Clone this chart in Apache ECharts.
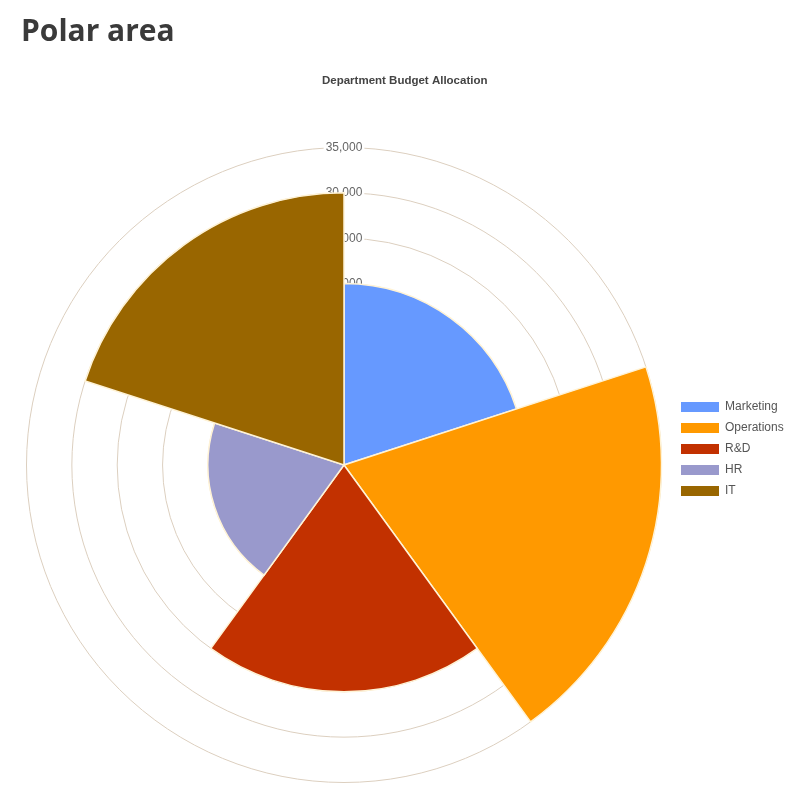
<!DOCTYPE html>
<html>
<head>
<meta charset="utf-8">
<script src="https://cdn.jsdelivr.net/npm/echarts@6/dist/echarts.min.js"></script>
<style>
html,body{margin:0;padding:0;background:#fff;}
#chart{width:800px;height:800px;}
</style>
</head>
<body>
<div id="chart"></div>
<script>
const categories = ['Marketing', 'Operations', 'R&D', 'HR', 'IT'];
const budgets = [20000, 35000, 25000, 15000, 30000];
const colors = ['#6699FF', '#FF9900', '#C23100', '#9999CC', '#996600'];
const radiusTicks = { min: 0, max: 35000, interval: 5000 };

const chart = echarts.init(document.getElementById('chart'));

const series = categories.map((name, i) => ({
  name: name,
  type: 'bar',
  coordinateSystem: 'polar',
  stack: 'all',
  z: 2,
  barCategoryGap: '0%',
  itemStyle: { color: colors[i], borderColor: '#fff3d6', borderWidth: 1.5 },
  emphasis: { disabled: true },
  data: categories.map((c, j) => (j === i ? budgets[i] : '-'))
}));

chart.setOption({
  animation: false,
  title: [
    {
      text: 'Polar area',
      left: 16, top: 12,
      textStyle: { fontFamily: 'Open Sans', fontWeight: 700, fontSize: 30, color: '#3a3a3a' }
    },
    {
      text: 'Department Budget Allocation',
      left: 317, top: 70,
      textStyle: { fontFamily: 'Liberation Sans', fontWeight: 'bold', fontSize: 11.5, color: '#444' }
    }
  ],
  legend: {
    orient: 'vertical',
    left: 681, top: 401,
    padding: 0,
    itemWidth: 38, itemHeight: 10, itemGap: 9,
    icon: 'rect',
    selectedMode: false,
    itemStyle: { borderWidth: 0 },
    textStyle: { fontFamily: 'Liberation Sans', fontSize: 12, color: '#555', padding: [0, 0, 0, 1] },
    data: categories
  },
  polar: { center: [344, 465], radius: 317.5 },
  angleAxis: {
    type: 'category',
    data: categories,
    startAngle: 90,
    clockwise: true,
    axisLine: { show: false },
    axisTick: { show: false },
    axisLabel: { show: false },
    splitLine: { show: false }
  },
  radiusAxis: {
    type: 'value',
    min: radiusTicks.min, max: radiusTicks.max, interval: radiusTicks.interval,
    z: 0,
    axisLine: { show: false },
    axisTick: { show: false },
    splitLine: { show: true, lineStyle: { color: '#dccfbf', width: 1 } },
    axisLabel: {
      showMinLabel: false,
      margin: 0,
      align: 'center',
      verticalAlign: 'middle',
      fontFamily: 'Liberation Sans',
      fontSize: 12,
      color: '#666',
      backgroundColor: '#fff',
      padding: [1, 2, 0, 2],
      formatter: v => v.toLocaleString('en-US')
    }
  },
  series: series
});
</script>
</body>
</html>
